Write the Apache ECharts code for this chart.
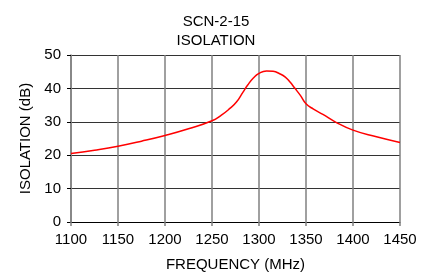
<!DOCTYPE html>
<html>
<head>
<meta charset="utf-8">
<script src="https://cdn.jsdelivr.net/npm/echarts@6/dist/echarts.min.js"></script>
<style>
html, body { margin: 0; padding: 0; background: #fff; }
#chart { width: 432px; height: 272px; }
</style>
</head>
<body>
<div id="chart"></div>
<script>
/* 曲线数据 (MHz, dB) */
var freq = [1100, 1125, 1150, 1175, 1200, 1225, 1250, 1260, 1269, 1276, 1283, 1288, 1294, 1300, 1308, 1315, 1322, 1328, 1333, 1338, 1344, 1350, 1358, 1368, 1381, 1400, 1425, 1450];
var isolation = [20.5, 21.5, 22.7, 24.2, 25.9, 27.9, 30.3, 32.0, 34.0, 35.9, 38.9, 41.0, 43.1, 44.5, 45.2, 45.1, 44.4, 43.4, 41.9, 40.1, 37.9, 35.4, 33.8, 32.2, 30.0, 27.5, 25.5, 23.8];
var titleText = 'SCN-2-15\nISOLATION';
var xName = 'FREQUENCY (MHz)';
var yName = 'ISOLATION (dB)';

var points = [];
for (var i = 0; i < freq.length; i++) {
	points.push([freq[i], isolation[i]]);
}

var font = 'Liberation Sans';
var myChart = echarts.init(document.getElementById('chart'));

var option = {
	animation: false,
	title: {
		text: titleText,
		left: 'center',
		top: 7,
		textStyle: {
			fontFamily: font,
			fontSize: 15,
			fontWeight: 'normal',
			color: '#000',
			lineHeight: 19
		}
	},
	grid: {
		left: 71,
		right: 32,
		top: 55,
		bottom: 50,
		outerBoundsMode: 'none'
	},
	xAxis: {
		type: 'value',
		min: 1100,
		max: 1450,
		interval: 50,
		name: xName,
		nameLocation: 'middle',
		nameGap: 35,
		nameTextStyle: { fontFamily: font, fontSize: 15, color: '#000' },
		axisLine: { lineStyle: { color: '#000', width: 1 } },
		axisTick: { show: true, length: 4, lineStyle: { color: '#808080', width: 1.5 } },
		axisLabel: {
			fontFamily: font, fontSize: 15, color: '#000', margin: 10,
			formatter: function (v) { return String(v); }
		},
		splitLine: { show: true, lineStyle: { color: '#808080', width: 1.5 } }
	},
	yAxis: {
		type: 'value',
		min: 0,
		max: 50,
		interval: 10,
		name: yName,
		nameLocation: 'middle',
		nameGap: 36,
		nameTextStyle: { fontFamily: font, fontSize: 15, color: '#000' },
		axisLine: { show: true, lineStyle: { color: '#808080', width: 1.5 } },
		axisTick: { show: true, length: 4, lineStyle: { color: '#000', width: 1 } },
		axisLabel: { fontFamily: font, fontSize: 15, color: '#000', margin: 10 },
		splitLine: { show: true, lineStyle: { color: '#333', width: 1 } }
	},
	series: [{
		type: 'line',
		data: points,
		smooth: 0.5,
		showSymbol: false,
		lineStyle: { color: '#ff0000', width: 1.5 }
	}]
};

myChart.setOption(option);
</script>
</body>
</html>
